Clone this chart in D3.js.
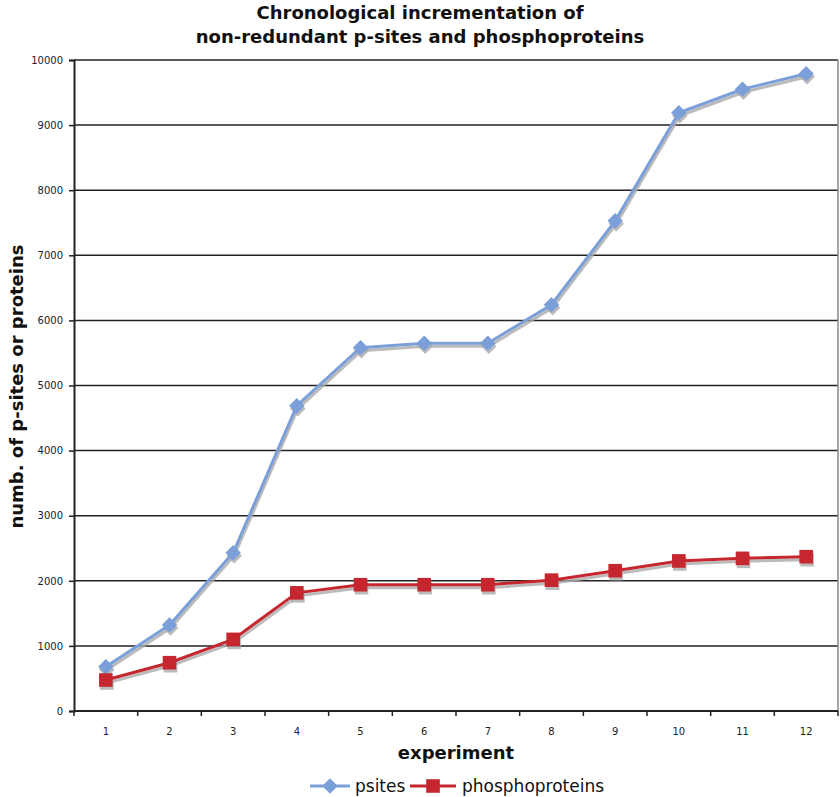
<!DOCTYPE html>
<html><head><meta charset="utf-8">
<script src="https://cdn.jsdelivr.net/npm/d3@7"></script>
<style>body{margin:0;background:#fff}</style>
</head><body>
<svg id="chart" width="840" height="797"></svg>
<script>
const experiments = ["1","2","3","4","5","6","7","8","9","10","11","12"];
const psites = [680, 1320, 2430, 4690, 5580, 5650, 5650, 6240, 7530, 9190, 9550, 9790];
const phosphoproteins = [476, 742, 1100, 1815, 1940, 1940, 1940, 2010, 2155, 2305, 2345, 2370];
const yTicks = [0,1000,2000,3000,4000,5000,6000,7000,8000,9000,10000];
const seriesNames = ["psites", "phosphoproteins"];

const svg = d3.select("#chart");
const m = {left:74, right:2, top:60, bottom:86};
const W = 840, H = 797;
const x = d3.scaleBand().domain(experiments).range([m.left, W - m.right]);
const y = d3.scaleLinear().domain([0, 10000]).range([H - m.bottom, m.top]);
const font = "Verdana, 'DejaVu Sans', sans-serif";

// title
svg.append("text").attr("x", 420).attr("y", 19).attr("text-anchor","middle")
  .attr("font-family", font).attr("font-weight","bold").attr("font-size",18).attr("fill","#111").text("Chronological incrementation of");
svg.append("text").attr("x", 420).attr("y", 43).attr("text-anchor","middle")
  .attr("font-family", font).attr("font-weight","bold").attr("font-size",18).attr("fill","#111").text("non-redundant p-sites and phosphoproteins");

// gridlines
svg.append("g").selectAll("line").data(yTicks.filter(d=>d>0)).join("line")
  .attr("x1", m.left).attr("x2", W - m.right)
  .attr("y1", d=>y(d)).attr("y2", d=>y(d))
  .attr("stroke", "#222").attr("stroke-width", 1.5);
// right border
svg.append("line").attr("x1", W-m.right).attr("x2", W-m.right).attr("y1", y(10000)).attr("y2", y(0))
  .attr("stroke","#888").attr("stroke-width",1.5);

// axes
const yAxis = d3.axisLeft(y).tickValues(yTicks).tickSize(5).tickPadding(6).tickFormat(d3.format("d"));
const gy = svg.append("g").attr("transform", `translate(${m.left},0)`).call(yAxis);
gy.select(".domain").attr("stroke","#222").attr("stroke-width",2);
gy.selectAll(".tick line").attr("stroke","#222").attr("stroke-width",1.5);
gy.selectAll(".tick text").attr("font-family", font).attr("font-size",10).attr("fill","#222");

const gx = svg.append("g").attr("transform", `translate(0,${y(0)})`);
gx.append("line").attr("x1", m.left).attr("x2", W-m.right).attr("y1",0).attr("y2",0).attr("stroke","#222").attr("stroke-width",2);
const bounds = experiments.map(e => x(e)).concat([W - m.right]);
gx.selectAll("line.tk").data(bounds).join("line").attr("class","tk")
  .attr("x1", d=>d).attr("x2", d=>d).attr("y1",0).attr("y2",5).attr("stroke","#222").attr("stroke-width",1.5);
gx.selectAll("text").data(experiments).join("text")
  .attr("x", d=>x(d)+x.bandwidth()/2).attr("y", 24).attr("text-anchor","middle")
  .attr("font-family", font).attr("font-size",10).attr("fill","#222").text(d=>d);

// axis titles
svg.append("text").attr("x", (m.left + W - m.right)/2).attr("y", 759).attr("text-anchor","middle")
  .attr("font-family", font).attr("font-weight","bold").attr("font-size",18).attr("fill","#111").text("experiment");
svg.append("text").attr("transform", `translate(23,${(y(0)+y(10000))/2 + 1}) rotate(-90)`).attr("text-anchor","middle")
  .attr("font-family", font).attr("font-weight","bold").attr("font-size",18).attr("fill","#111").text("numb. of p-sites or proteins");

// series
const series = [
  {name: seriesNames[0], values: psites, color: "#7A9FD9", shape: d3.symbolSquare, size: 120, rot: 45},
  {name: seriesNames[1], values: phosphoproteins, color: "#C6262E", shape: d3.symbolSquare, size: 185, rot: 0}
];
const cx = (i) => x(experiments[i]) + x.bandwidth()/2;
const line = d3.line().x((d,i)=>cx(i)).y(d=>y(d));
series.forEach(s => {
  // shadow
  svg.append("path").datum(s.values).attr("d", line).attr("fill","none")
    .attr("stroke","#aaa").attr("stroke-width",3).attr("transform","translate(1,3)").attr("opacity",0.8);
  svg.append("g").selectAll("path").data(s.values).join("path")
    .attr("d", d3.symbol().type(s.shape).size(s.size))
    .attr("transform", (d,i)=>`translate(${cx(i)+1},${y(d)+3}) rotate(${s.rot})`).attr("fill","#aaa").attr("opacity",0.8);
  svg.append("path").datum(s.values).attr("d", line).attr("fill","none")
    .attr("stroke", s.color).attr("stroke-width",3);
  svg.append("g").selectAll("path").data(s.values).join("path")
    .attr("d", d3.symbol().type(s.shape).size(s.size))
    .attr("transform", (d,i)=>`translate(${cx(i)},${y(d)}) rotate(${s.rot})`).attr("fill", s.color);
});

// legend
const lg = svg.append("g");
const legendItems = [
  {x1: 310, x2: 350, tx: 355, s: series[0]},
  {x1: 410, x2: 456, tx: 462, s: series[1]}
];
legendItems.forEach(it => {
  lg.append("line").attr("x1", it.x1).attr("x2", it.x2).attr("y1", 786).attr("y2", 786)
    .attr("stroke", it.s.color).attr("stroke-width",3);
  lg.append("path").attr("d", d3.symbol().type(it.s.shape).size(it.s.size))
    .attr("transform", `translate(${(it.x1+it.x2)/2},786) rotate(${it.s.rot})`).attr("fill", it.s.color);
  lg.append("text").attr("x", it.tx).attr("y", 792).attr("font-family", font).attr("font-size",17)
    .attr("fill","#111").text(it.s.name);
});
</script>
</body></html>
